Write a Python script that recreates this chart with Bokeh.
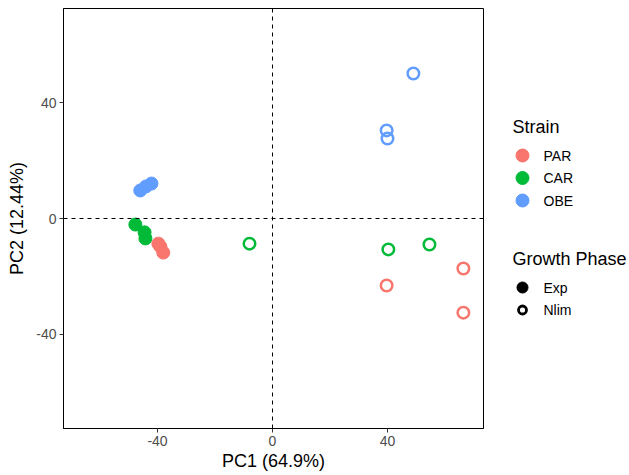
from bokeh.plotting import figure
from bokeh.layouts import row
from bokeh.models import Span, FixedTicker, Range1d
from bokeh.core.properties import value
from bokeh.embed import file_html
from bokeh.resources import INLINE

strains = ["PAR", "CAR", "OBE"]
colors = ["#F8766D", "#00BA38", "#619CFF"]
phases = ["Exp", "Nlim"]

# PC scores per strain / phase
pc1_exp = {"PAR": [-39.7, -39.0, -38.0], "CAR": [-47.7, -44.5, -44.2], "OBE": [-46.0, -44.0, -42.1]}
pc2_exp = {"PAR": [-8.7, -9.7, -11.8], "CAR": [-2.1, -4.8, -6.9], "OBE": [9.7, 11.1, 12.1]}
pc1_nlim = {"PAR": [39.7, 66.4, 66.4], "CAR": [-8.0, 40.3, 54.6], "OBE": [49.0, 39.7, 40.0]}
pc2_nlim = {"PAR": [-23.2, -17.3, -32.6], "CAR": [-8.7, -10.7, -9.0], "OBE": [50.2, 30.5, 27.7]}

ticks = [-40, 0, 40]
tick_labels = {-40: "-40", 0: "0", 40: "40"}
FONT = "Liberation Sans"

MAIN_W = 493
TOP, FRAME, BOTTOM = 8, 420, 46

p = figure(frame_width=FRAME, frame_height=FRAME, min_border_left=63, min_border_top=TOP,
           min_border_right=10, min_border_bottom=BOTTOM,
           x_range=Range1d(-72.7, 73.4), y_range=Range1d(-72.7, 72.7),
           output_backend="svg", toolbar_location=None)
p.background_fill_color = "white"
p.border_fill_color = "white"
p.outline_line_color = "black"
p.outline_line_width = 1
p.xgrid.visible = False
p.ygrid.visible = False

for ax in (p.xaxis[0], p.yaxis[0]):
    ax.ticker = FixedTicker(ticks=ticks)
    ax.major_label_overrides = tick_labels
    ax.minor_tick_line_color = None
    ax.major_tick_in = 0
    ax.major_tick_out = 4
    ax.major_tick_line_color = "#333333"
    ax.axis_line_color = "black"
    ax.major_label_text_font = FONT
    ax.major_label_text_font_size = "14px"
    ax.major_label_text_color = "#4d4d4d"
    ax.axis_label_text_font = FONT
    ax.axis_label_text_font_size = "18px"
    ax.axis_label_text_font_style = "normal"
    ax.axis_label_text_color = "black"
p.xaxis.axis_label = "PC1 (64.9%)"
p.yaxis.axis_label = "PC2 (12.44%)"
p.xaxis.major_label_standoff = 3
p.yaxis.major_label_standoff = 3
p.xaxis.axis_label_standoff = 2
p.yaxis.axis_label_standoff = 6

p.add_layout(Span(location=0, dimension="height", line_color="black", line_width=1, line_dash="4 4"))
p.add_layout(Span(location=0, dimension="width", line_color="black", line_width=1, line_dash="4 4"))

for s, c in zip(["OBE", "CAR", "PAR"], [colors[2], colors[1], colors[0]]):
    p.scatter(pc1_exp[s], pc2_exp[s], marker="circle", size=13,
              fill_color=c, line_color=c, line_width=1)
for s, c in zip(strains, colors):
    p.scatter(pc1_nlim[s], pc2_nlim[s], marker="circle", size=11.5,
              fill_color=None, line_color=c, line_width=2.5)

# legend panel: frame aligned with the main frame, y in page pixels (downward)
LW = 629 - MAIN_W
lp = figure(frame_width=LW, frame_height=FRAME, min_border_left=0, min_border_right=0,
            min_border_top=TOP, min_border_bottom=BOTTOM,
            x_range=Range1d(0, LW), y_range=Range1d(TOP + FRAME, TOP),
            x_axis_location=None, y_axis_location=None,
            output_backend="svg", toolbar_location=None)
lp.xgrid.visible = False
lp.ygrid.visible = False
lp.outline_line_color = None
lp.background_fill_color = "white"
lp.border_fill_color = "white"

title_x, key_x, lab_x = 19, 29, 50
row_step = 22.5
strain_title_y, strain_first_y = 126, 155
phase_title_y, phase_first_y = 258, 287

lp.text(x=[title_x], y=[strain_title_y], text=["Strain"], text_font=value(FONT),
        text_font_size="18px", text_color="black", text_baseline="middle", text_align="left")
sy = [strain_first_y + i * row_step for i in range(len(strains))]
lp.scatter(x=[key_x] * len(strains), y=sy, marker="circle", size=13,
           fill_color=colors, line_color=colors, line_width=1)
lp.text(x=[lab_x] * len(strains), y=sy, text=strains, text_font=value(FONT),
        text_font_size="14px", text_color="black", text_baseline="middle", text_align="left")

lp.text(x=[title_x], y=[phase_title_y], text=["Growth Phase"], text_font=value(FONT),
        text_font_size="18px", text_color="black", text_baseline="middle", text_align="left")
py = [phase_first_y + i * row_step for i in range(len(phases))]
lp.scatter(x=[key_x], y=[py[0]], marker="circle", size=11, fill_color="black",
           line_color="black", line_width=1)
lp.scatter(x=[key_x], y=[py[1]], marker="circle", size=8, fill_color=None,
           line_color="black", line_width=2.8)
lp.text(x=[lab_x] * len(phases), y=py, text=phases, text_font=value(FONT),
        text_font_size="14px", text_color="black", text_baseline="middle", text_align="left")

layout = row(p, lp, spacing=0)
open("out.html", "w").write(file_html(layout, INLINE))
